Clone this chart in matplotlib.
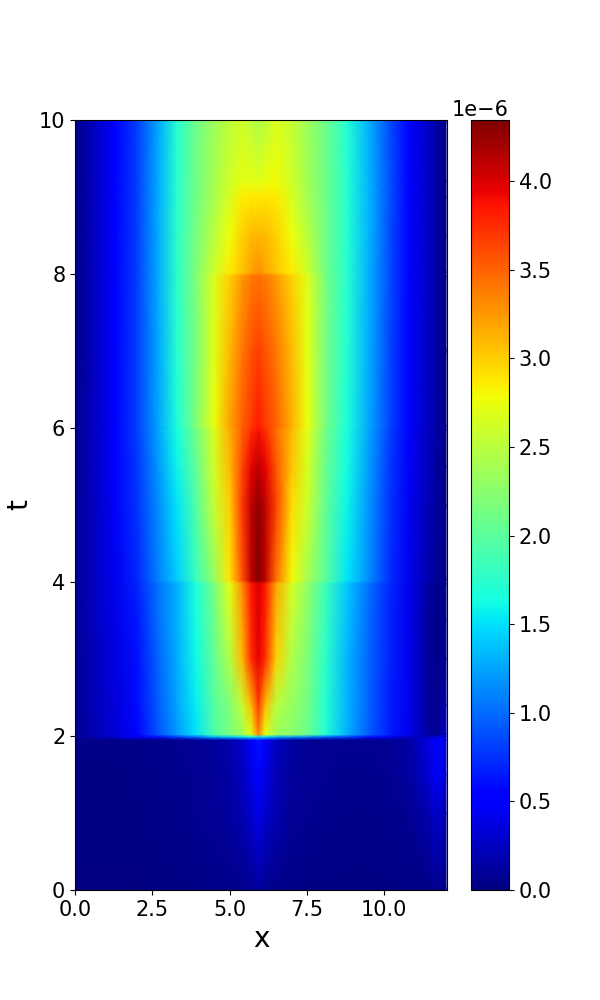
import numpy as np
import matplotlib
matplotlib.use('Agg')
import matplotlib.pyplot as plt

# values in units of 1e-6
x_nodes = [0, 0.6, 1.3, 2.0, 2.7, 3.3, 3.9, 4.5, 5.0, 5.4, 5.7, 5.93, 6.15, 6.5, 7.0, 7.5, 8.1, 8.8, 9.5, 10.2, 10.8, 11.4, 11.7, 12]
t_nodes = [0, 1, 1.5, 1.95, 1.99, 2.02, 2.4, 3, 3.5, 3.98, 4.02, 5, 5.5, 5.98, 6.02, 7, 7.98, 8.02, 8.5, 9, 9.2, 10]

row_t0 = [.01, .01, .01, .01, .02, .03, .03, .04, .05, .06, .08, .12, .08, .05, .04, .03, .03, .02, .02, .02, .02, .03, .07, .04]
row_t1 = [.02, .02, .02, .03, .04, .05, .07, .09, .13, .2, .3, .42, .3, .19, .1, .08, .06, .05, .05, .06, .08, .18, .3, .18]
row_t15 = [.03, .03, .03, .04, .05, .06, .08, .1, .15, .24, .38, .5, .38, .22, .11, .09, .07, .06, .06, .08, .12, .3, .48, .3]
row_t195 = [.04, .04, .04, .05, .06, .07, .09, .12, .17, .28, .46, .62, .46, .25, .13, .1, .08, .07, .07, .09, .14, .36, .56, .34]
row_t199 = [.1, .18, .3, .45, .6, .8, 1.0, 1.3, 1.4, 1.5, 1.6, 1.5, 1.5, 1.3, 1.2, 1.1, .95, .8, .6, .4, .25, .25, .4, .3]
row_t202 = [.08, .2, .33, .55, .9, 1.2, 1.5, 1.92, 2.15, 2.35, 2.72, 3.35, 2.72, 2.35, 2.25, 2.1, 1.7, 1.3, .95, .65, .42, .12, .06, .3]
row_t24 = [.08, .21, .35, .58, .94, 1.24, 1.55, 1.98, 2.2, 2.55, 3.1, 3.7, 3.1, 2.5, 2.32, 2.15, 1.72, 1.31, .96, .66, .42, .12, .06, .2]
row_t3 = [.08, .22, .38, .6, .98, 1.28, 1.6, 2.05, 2.45, 3.1, 3.75, 3.95, 3.75, 3.0, 2.45, 2.2, 1.75, 1.32, .98, .68, .42, .12, .06, .1]
row_t35 = [.08, .24, .4, .64, 1.02, 1.29, 1.63, 2.1, 2.6, 3.2, 3.8, 3.98, 3.8, 3.1, 2.55, 2.25, 1.8, 1.36, 1.0, .69, .42, .13, .06, .07]
row_t398 = [.08, .25, .42, .68, 1.05, 1.3, 1.66, 2.15, 2.72, 3.3, 3.85, 4.0, 3.85, 3.2, 2.65, 2.3, 1.85, 1.4, 1.03, .7, .42, .14, .06, .05]
row_t402 = [.08, .25, .43, .7, 1.1, 1.42, 1.8, 2.3, 2.9, 3.55, 4.1, 4.34, 4.1, 3.45, 2.8, 2.4, 2.0, 1.52, 1.15, .72, .42, .2, .1, .04]
row_t5 = [.07, .25, .46, .75, 1.15, 1.52, 1.95, 2.55, 3.0, 3.7, 4.1, 4.28, 4.1, 3.65, 2.95, 2.6, 2.05, 1.58, 1.18, .75, .44, .22, .12, .04]
row_t55 = [.06, .25, .48, .78, 1.2, 1.58, 2.02, 2.62, 3.1, 3.6, 3.95, 4.1, 3.95, 3.55, 3.05, 2.65, 2.08, 1.62, 1.22, .78, .46, .24, .13, .04]
row_t598 = [.06, .25, .5, .8, 1.24, 1.65, 2.1, 2.68, 3.15, 3.5, 3.75, 3.88, 3.75, 3.45, 3.1, 2.7, 2.12, 1.65, 1.25, .8, .47, .25, .14, .04]
row_t602 = [.06, .25, .5, .8, 1.25, 1.67, 2.18, 2.75, 3.2, 3.5, 3.7, 3.82, 3.7, 3.5, 3.15, 2.75, 2.15, 1.68, 1.27, .82, .48, .26, .14, .04]
row_t7 = [.05, .25, .5, .8, 1.26, 1.72, 2.15, 2.7, 3.1, 3.4, 3.58, 3.65, 3.58, 3.4, 3.1, 2.72, 2.15, 1.7, 1.28, .83, .48, .27, .15, .04]
row_t798 = [.05, .25, .52, .8, 1.28, 1.75, 2.18, 2.68, 3.0, 3.25, 3.38, 3.42, 3.38, 3.25, 3.0, 2.7, 2.15, 1.72, 1.3, .85, .5, .28, .15, .04]
row_t802 = [.05, .25, .52, .8, 1.28, 1.76, 2.18, 2.6, 2.88, 3.05, 3.2, 3.3, 3.2, 3.05, 2.88, 2.62, 2.12, 1.72, 1.3, .85, .5, .28, .15, .04]
row_t85 = [.05, .25, .52, .8, 1.28, 1.75, 2.14, 2.5, 2.78, 3.0, 3.1, 3.12, 3.1, 3.0, 2.78, 2.5, 2.12, 1.72, 1.31, .86, .5, .28, .15, .04]
row_t9 = [.05, .25, .52, .8, 1.28, 1.74, 2.12, 2.42, 2.66, 2.86, 2.88, 2.88, 2.9, 2.88, 2.66, 2.4, 2.12, 1.72, 1.32, .87, .5, .28, .15, .04]
row_t92 = [.05, .25, .52, .8, 1.28, 1.74, 2.12, 2.4, 2.6, 2.72, 2.72, 2.7, 2.76, 2.8, 2.62, 2.38, 2.12, 1.72, 1.32, .87, .5, .28, .15, .04]
row_t10 = [.05, .25, .52, .8, 1.27, 1.72, 2.1, 2.35, 2.52, 2.6, 2.52, 2.42, 2.5, 2.68, 2.55, 2.35, 2.1, 1.7, 1.3, .85, .5, .28, .15, .04]

u = np.array([row_t0, row_t1, row_t15, row_t195, row_t199, row_t202, row_t24, row_t3, row_t35,
              row_t398, row_t402, row_t5, row_t55, row_t598, row_t602, row_t7,
              row_t798, row_t802, row_t85, row_t9, row_t92, row_t10]) * 1e-6

fig = plt.figure(figsize=(6, 10), dpi=100)
ax = fig.add_axes([75 / 600, 110 / 1000, 372 / 600, 770 / 1000])
cax = fig.add_axes([471 / 600, 110 / 1000, 38 / 600, 770 / 1000])

mesh = ax.pcolormesh(x_nodes, t_nodes, u, cmap='jet', shading='gouraud', vmin=0, vmax=4.345e-6)
ax.set_xlim(0, 12.03)
ax.set_ylim(0, 10)
ax.set_xticks([0, 2.5, 5, 7.5, 10])
ax.set_xticklabels(['0.0', '2.5', '5.0', '7.5', '10.0'])
ax.set_yticks([0, 2, 4, 6, 8, 10])
ax.tick_params(labelsize=15)
ax.set_xlabel('x', fontsize=20)
ax.set_ylabel('t', fontsize=20)

cbar = fig.colorbar(mesh, cax=cax)
cbar.set_ticks(np.arange(0, 4.5e-6, 0.5e-6))
cbar.ax.tick_params(labelsize=15)
cbar.ax.yaxis.get_offset_text().set_fontsize(15)

plt.savefig('out.png', dpi=100)
